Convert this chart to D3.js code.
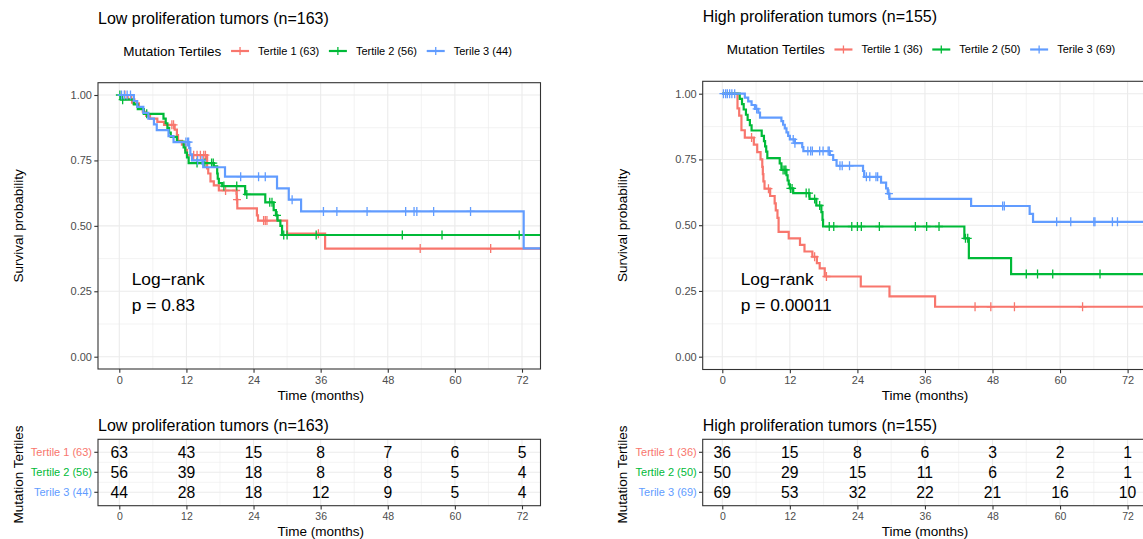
<!DOCTYPE html>
<html><head><meta charset="utf-8">
<script src="https://cdn.jsdelivr.net/npm/d3@7"></script>
<style>
body{margin:0;background:#fff}
svg{display:block}
text{font-family:"Liberation Sans",Arial,Helvetica,sans-serif}
</style>
</head><body>
<svg id="c" width="1143" height="539"></svg>
<script>
// ---------------- DATA ----------------
const groupNames = ["Tertile 1", "Tertile 2", "Terile 3"];
const groupColors = ["#F8766D", "#00BA38", "#619CFF"];
const timeTicks = [0, 12, 24, 36, 48, 60, 72];
const survTicks = [0, 0.25, 0.5, 0.75, 1];
const survTickLabels = ["0.00", "0.25", "0.50", "0.75", "1.00"];

const lowTitle = "Low proliferation tumors (n=163)";
const lowN = [63, 56, 44];
const lowP = "p = 0.83";
const highTitle = "High proliferation tumors (n=155)";
const highN = [36, 50, 69];
const highP = "p = 0.00011";

// step functions: [time (months), survival after drop]
const lowT1Steps = [[1.5,0.984],[2.5,0.968],[3.5,0.952],[4.2,0.936],[4.8,0.92],[5.5,0.91],[6.8,0.897],[8.0,0.886],[9.9,0.868],[10.3,0.847],[10.5,0.825],[11.2,0.81],[11.8,0.79],[12.1,0.77],[15.7,0.72],[15.9,0.70],[16.3,0.67],[16.9,0.655],[17.8,0.635],[21.0,0.6],[21.1,0.567],[24.6,0.54],[24.8,0.52],[30.0,0.47],[36.8,0.413]];
const lowT1Censor = [1.0,2.2,9.4,9.7,13.3,13.9,14.5,15.1,15.4,19.0,20.9,21.05,25.8,26.1,26.4,35.6,53.8,66.4];
const lowT2Steps = [[0.3,0.982],[2.6,0.964],[3.3,0.946],[4.4,0.928],[7.9,0.91],[8.3,0.892],[8.6,0.874],[8.9,0.856],[9.2,0.84],[10.3,0.822],[11.5,0.80],[11.8,0.78],[12.1,0.762],[12.4,0.74],[16.9,0.727],[17.5,0.70],[17.6,0.68],[17.8,0.663],[18.4,0.652],[22.5,0.62],[26.1,0.59],[27.6,0.56],[28.0,0.54],[28.3,0.52],[28.8,0.50],[29.1,0.465]];
const lowT2Censor = [0.1,0.6,4.9,13.9,15.3,16.5,16.8,18.7,21.0,22.8,26.9,27.3,28.2,29.4,30.0,35.2,50.6,57.7,71.5];
const lowT3Steps = [[2.6,0.977],[3.2,0.955],[4.3,0.932],[5.2,0.91],[6.2,0.888],[6.7,0.866],[8.8,0.843],[9.7,0.82],[12.5,0.797],[12.7,0.773],[13.0,0.75],[15.0,0.724],[18.9,0.688],[28.2,0.643],[30.3,0.6],[32.5,0.555],[72.3,0.414]];
const lowT3Censor = [0.4,0.9,1.4,2.0,11.9,12.2,12.4,14.0,14.8,21.7,24.9,26.1,30.9,36.5,38.9,44.3,51.2,52.7,53.2,56.2,62.8];

const highT1Steps = [[2.7,0.944],[3.0,0.917],[3.4,0.861],[4.0,0.833],[5.6,0.806],[6.2,0.778],[6.8,0.75],[7.1,0.722],[7.2,0.694],[7.3,0.667],[7.5,0.639],[8.5,0.611],[9.3,0.583],[9.5,0.556],[9.8,0.528],[10.0,0.475],[11.8,0.45],[13.8,0.425],[14.6,0.40],[16.0,0.38],[16.8,0.356],[17.3,0.336],[18.2,0.305],[24.6,0.267],[29.7,0.229],[37.8,0.19]];
const highT1Censor = [5.2,8.2,16.4,18.5,44.9,47.7,51.9,64.0];
const highT2Steps = [[3.1,0.98],[3.5,0.96],[3.8,0.94],[4.2,0.92],[4.5,0.90],[4.9,0.88],[5.2,0.86],[7.0,0.84],[7.4,0.82],[7.6,0.80],[7.8,0.78],[8.0,0.755],[10.2,0.735],[10.5,0.71],[11.4,0.69],[11.6,0.67],[11.8,0.655],[12.0,0.64],[12.6,0.622],[15.5,0.60],[16.7,0.575],[17.6,0.55],[17.8,0.52],[17.9,0.495],[43.0,0.45],[43.8,0.375],[51.3,0.314]];
const highT2Censor = [10.8,11.1,11.3,12.1,12.4,14.9,15.4,16.4,17.3,19.0,19.8,23.0,24.0,24.7,27.9,34.3,36.3,38.5,43.2,43.6,54.0,56.0,58.7,67.1];
const highT3Steps = [[4.0,0.985],[4.6,0.971],[5.2,0.957],[5.8,0.942],[6.4,0.928],[6.7,0.909],[10.5,0.896],[10.8,0.882],[11.1,0.868],[11.4,0.853],[11.7,0.84],[12.0,0.826],[12.9,0.812],[14.2,0.797],[14.4,0.782],[19.1,0.767],[19.7,0.748],[20.3,0.726],[25.0,0.706],[25.2,0.684],[28.2,0.662],[29.1,0.64],[29.4,0.62],[29.7,0.60],[44.2,0.573],[54.6,0.543],[55.2,0.513]];
const highT3Censor = [0.2,0.6,0.9,1.3,1.7,2.2,6.1,12.6,12.9,15.2,15.7,16.0,17.3,17.9,18.8,19.0,20.9,21.3,22.6,25.6,26.2,27.3,27.6,29.6,49.8,50.1,59.4,61.9,66.0,66.2,69.3,70.2];

// numbers at risk at timeTicks
const lowRisk = [[63,43,15,8,7,6,5],[56,39,18,8,8,5,4],[44,28,18,12,9,5,4]];
const highRisk = [[36,15,8,6,3,2,1],[50,29,15,11,6,2,1],[69,53,32,22,21,16,10]];

// ---------------- DRAWING ----------------
const svg = d3.select("#c");
const defs = svg.append("defs");
const AXIS_TEXT = "#4D4D4D", BORDER = "#333333", GRID = "#EBEBEB";

function stepAt(steps, t) {
  let s = 1;
  for (const [tt, v] of steps) { if (tt <= t) s = v; else break; }
  return s;
}

function drawPlot(o) {
  const g = svg.append("g");
  const x = d3.scaleLinear().domain([0, 72]).range([o.x0, o.x72]);
  const y = d3.scaleLinear().domain([0, 1]).range([o.y0, o.y1]);
  const P = o.panel;
  const xMax = x.invert(P.r);

  // title
  g.append("text").attr("x", P.l).attr("y", o.titleY).attr("dy", "0.35em")
    .style("font-size", "16px").attr("fill", "#000").text(o.title);

  // legend
  let lx = o.legendX;
  const ly = o.legendY;
  const lt = g.append("text").attr("x", lx).attr("y", ly).attr("dy", "0.35em")
    .style("font-size", "13.5px").text("Mutation Tertiles");
  lx += lt.node().getComputedTextLength() + 9.7;
  o.labels.forEach((lab, i) => {
    g.append("line").attr("x1", lx).attr("x2", lx + 18).attr("y1", ly).attr("y2", ly)
      .attr("stroke", groupColors[i]).attr("stroke-width", 2.2);
    g.append("line").attr("x1", lx + 9).attr("x2", lx + 9).attr("y1", ly - 4).attr("y2", ly + 4)
      .attr("stroke", groupColors[i]).attr("stroke-width", 1.3);
    lx += 27;
    const tt = g.append("text").attr("x", lx).attr("y", ly).attr("dy", "0.35em")
      .style("font-size", "11px").text(lab);
    lx += tt.node().getComputedTextLength() + 9.7;
  });

  // panel grid
  const clipId = "clip" + o.id;
  defs.append("clipPath").attr("id", clipId).append("rect")
    .attr("x", P.l).attr("y", P.t).attr("width", P.r - P.l).attr("height", P.b - P.t);
  const pg = g.append("g").attr("clip-path", `url(#${clipId})`);
  const xMinor = [-6, 6, 18, 30, 42, 54, 66, 78];
  const yMinor = [0.125, 0.375, 0.625, 0.875];
  xMinor.forEach(v => pg.append("line").attr("x1", x(v)).attr("x2", x(v)).attr("y1", P.t).attr("y2", P.b)
    .attr("stroke", GRID).attr("stroke-width", 0.6));
  yMinor.forEach(v => pg.append("line").attr("x1", P.l).attr("x2", P.r).attr("y1", y(v)).attr("y2", y(v))
    .attr("stroke", GRID).attr("stroke-width", 0.6));
  timeTicks.forEach(v => pg.append("line").attr("x1", x(v)).attr("x2", x(v)).attr("y1", P.t).attr("y2", P.b)
    .attr("stroke", GRID).attr("stroke-width", 1.1));
  survTicks.forEach(v => pg.append("line").attr("x1", P.l).attr("x2", P.r).attr("y1", y(v)).attr("y2", y(v))
    .attr("stroke", GRID).attr("stroke-width", 1.1));

  // curves
  const line = d3.line().x(d => x(d[0])).y(d => y(d[1])).curve(d3.curveStepAfter);
  o.series.forEach((s, i) => {
    const pts = [[0, 1], ...s.steps, [xMax + 5, s.steps[s.steps.length - 1][1]]];
    pg.append("path").attr("d", line(pts)).attr("fill", "none")
      .attr("stroke", groupColors[i]).attr("stroke-width", 2.2);
    s.censor.forEach(c => {
      const cx = x(c), cy = y(stepAt(s.steps, c));
      pg.append("path").attr("d", `M${cx - 4},${cy}H${cx + 4}M${cx},${cy - 4.5}V${cy + 4.5}`)
        .attr("stroke", groupColors[i]).attr("stroke-width", 1.3).attr("fill", "none");
    });
  });

  // log-rank text
  g.append("text").attr("x", o.lrX).attr("y", o.lrY).attr("dy", "0.35em")
    .style("font-size", "17.4px").text("Log\u2212rank");
  g.append("text").attr("x", o.lrX).attr("y", o.lrY + 26).attr("dy", "0.35em")
    .style("font-size", "17.4px").text(o.pval);

  // panel border
  g.append("rect").attr("x", P.l).attr("y", P.t).attr("width", P.r - P.l).attr("height", P.b - P.t)
    .attr("fill", "none").attr("stroke", BORDER).attr("stroke-width", 1.1);

  // axes
  const xa = g.append("g").attr("transform", `translate(0,${P.b})`)
    .call(d3.axisBottom(x).tickValues(timeTicks).tickSize(3.7).tickPadding(3.4));
  const ya = g.append("g").attr("transform", `translate(${P.l},0)`)
    .call(d3.axisLeft(y).tickValues(survTicks).tickFormat((d, i) => survTickLabels[i]).tickSize(3.7).tickPadding(2.3));
  [xa, ya].forEach(a => {
    a.select(".domain").remove();
    a.selectAll(".tick line").attr("stroke", BORDER).attr("stroke-width", 1.1);
    a.selectAll(".tick text").attr("fill", AXIS_TEXT).style("font-size", "11px")
      .style("font-family", '"Liberation Sans",Arial,sans-serif');
  });
  g.append("text").attr("x", x(36)).attr("y", o.xTitleY).attr("dy", "0.35em")
    .attr("text-anchor", "middle").style("font-size", "13.5px").text("Time (months)");
  g.append("text").attr("transform", `translate(${o.yTitleX},${(P.t + P.b) / 2}) rotate(-90)`)
    .attr("dy", "0.35em").attr("text-anchor", "middle").style("font-size", "13.5px").text("Survival probability");

  // ---- risk table ----
  const T = o.table;
  const ty = d3.scalePoint().domain([0, 1, 2]).range([T.rowY[0], T.rowY[1]]);
  g.append("text").attr("x", T.l).attr("y", T.titleY).attr("dy", "0.35em")
    .style("font-size", "16px").text(o.title);
  const tclip = "tclip" + o.id;
  defs.append("clipPath").attr("id", tclip).append("rect")
    .attr("x", T.l).attr("y", T.t).attr("width", T.r - T.l).attr("height", T.b - T.t);
  const tg = g.append("g").attr("clip-path", `url(#${tclip})`);
  xMinor.forEach(v => tg.append("line").attr("x1", x(v)).attr("x2", x(v)).attr("y1", T.t).attr("y2", T.b)
    .attr("stroke", GRID).attr("stroke-width", 0.6));
  timeTicks.forEach(v => tg.append("line").attr("x1", x(v)).attr("x2", x(v)).attr("y1", T.t).attr("y2", T.b)
    .attr("stroke", GRID).attr("stroke-width", 1.1));
  [0, 1, 2].forEach(r => tg.append("line").attr("x1", T.l).attr("x2", T.r).attr("y1", ty(r)).attr("y2", ty(r))
    .attr("stroke", GRID).attr("stroke-width", 1.1));
  const step = ty(1) - ty(0);
  [ty(0) + step / 2, ty(1) + step / 2].forEach(yy => tg.append("line").attr("x1", T.l).attr("x2", T.r)
    .attr("y1", yy).attr("y2", yy).attr("stroke", GRID).attr("stroke-width", 0.6));
  o.risk.forEach((row, r) => {
    row.forEach((v, k) => {
      tg.append("text").attr("x", x(timeTicks[k])).attr("y", ty(r)).attr("dy", "0.36em")
        .attr("text-anchor", "middle").style("font-size", "15.7px").text(v);
    });
  });
  g.append("rect").attr("x", T.l).attr("y", T.t).attr("width", T.r - T.l).attr("height", T.b - T.t)
    .attr("fill", "none").attr("stroke", BORDER).attr("stroke-width", 1.1);
  const txa = g.append("g").attr("transform", `translate(0,${T.b})`)
    .call(d3.axisBottom(x).tickValues(timeTicks).tickSize(3.7).tickPadding(3.4));
  txa.select(".domain").remove();
  txa.selectAll(".tick line").attr("stroke", BORDER).attr("stroke-width", 1.1);
  txa.selectAll(".tick text").attr("fill", AXIS_TEXT).style("font-size", "10.5px")
    .style("font-family", '"Liberation Sans",Arial,sans-serif');
  o.labels.forEach((lab, r) => {
    g.append("line").attr("x1", T.l - 3.7).attr("x2", T.l).attr("y1", ty(r)).attr("y2", ty(r))
      .attr("stroke", BORDER).attr("stroke-width", 1.1);
    g.append("text").attr("x", T.l - 6).attr("y", ty(r)).attr("dy", "0.35em")
      .attr("text-anchor", "end").attr("fill", groupColors[r]).style("font-size", "11px").text(lab);
  });
  g.append("text").attr("x", x(36)).attr("y", T.xTitleY).attr("dy", "0.35em")
    .attr("text-anchor", "middle").style("font-size", "13.5px").text("Time (months)");
  g.append("text").attr("transform", `translate(${o.yTitleX},${(T.t + T.b) / 2 + 2}) rotate(-90)`)
    .attr("dy", "0.35em").attr("text-anchor", "middle").style("font-size", "13.5px").text("Mutation Tertiles");
}

drawPlot({
  id: "L", title: lowTitle, pval: lowP,
  labels: groupNames.map((n, i) => `${n} (${lowN[i]})`),
  series: [{steps: lowT1Steps, censor: lowT1Censor}, {steps: lowT2Steps, censor: lowT2Censor}, {steps: lowT3Steps, censor: lowT3Censor}],
  risk: lowRisk,
  x0: 119.3, x72: 522, y0: 356.7, y1: 95,
  panel: {l: 98, r: 540.5, t: 82.7, b: 369},
  titleY: 18, legendX: 123.3, legendY: 51, lrX: 131.7, lrY: 279, xTitleY: 395.5, yTitleX: 18,
  table: {l: 98, r: 540.5, t: 439.3, b: 505.7, rowY: [452.3, 492.3], titleY: 425, xTitleY: 531}
});
drawPlot({
  id: "R", title: highTitle, pval: highP,
  labels: groupNames.map((n, i) => `${n} (${highN[i]})`),
  series: [{steps: highT1Steps, censor: highT1Censor}, {steps: highT2Steps, censor: highT2Censor}, {steps: highT3Steps, censor: highT3Censor}],
  risk: highRisk,
  x0: 722.3, x72: 1127.6, y0: 356.7, y1: 93.7,
  panel: {l: 702.7, r: 1150, t: 81.3, b: 369.5},
  titleY: 16.5, legendX: 726.7, legendY: 49.5, lrX: 740.7, lrY: 279, xTitleY: 395.5, yTitleX: 622,
  table: {l: 702.7, r: 1150, t: 439.3, b: 505.7, rowY: [452.3, 492.3], titleY: 425, xTitleY: 531}
});
</script>
</body></html>
